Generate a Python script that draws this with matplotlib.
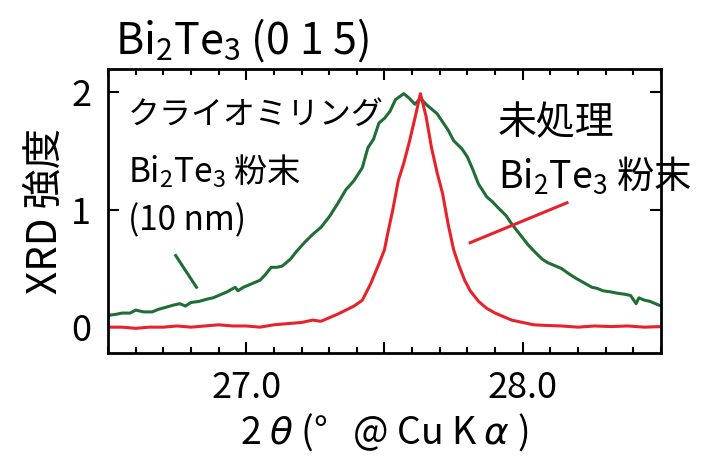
import matplotlib
matplotlib.use('Agg')
import matplotlib.pyplot as plt
from matplotlib.ticker import FixedLocator, FixedFormatter, MultipleLocator

plt.rcParams['font.family'] = ['Noto Sans CJK JP', 'DejaVu Sans']

# cryo-milled powder (10 nm), broad peak
two_theta_milled = [26.50, 26.53, 26.55, 26.58, 26.60, 26.63, 26.66, 26.68, 26.71, 26.74,
                    26.76, 26.78, 26.80, 26.83, 26.86, 26.88, 26.91, 26.93, 26.96, 26.97,
                    26.99, 27.01, 27.03, 27.05, 27.07, 27.09, 27.11, 27.13, 27.16, 27.18,
                    27.21, 27.24, 27.27, 27.30, 27.33, 27.36, 27.39, 27.42, 27.44, 27.46,
                    27.48, 27.50, 27.52, 27.54, 27.57, 27.59, 27.61, 27.63, 27.65, 27.67,
                    27.69, 27.71, 27.73, 27.75, 27.78, 27.80, 27.82, 27.84, 27.87, 27.89,
                    27.91, 27.94, 27.96, 27.98, 28.00, 28.02, 28.04, 28.07, 28.09, 28.11,
                    28.14, 28.17, 28.19, 28.22, 28.25, 28.27, 28.29, 28.32, 28.34, 28.37,
                    28.39, 28.41, 28.42, 28.44, 28.46, 28.48, 28.50]
intensity_milled = [0.10, 0.11, 0.12, 0.12, 0.145, 0.13, 0.13, 0.15, 0.17, 0.19,
                    0.20, 0.18, 0.21, 0.22, 0.24, 0.25, 0.28, 0.30, 0.34, 0.31,
                    0.34, 0.36, 0.38, 0.40, 0.45, 0.51, 0.51, 0.52, 0.58, 0.64,
                    0.72, 0.79, 0.85, 0.94, 1.05, 1.17, 1.25, 1.36, 1.53, 1.60,
                    1.74, 1.78, 1.84, 1.94, 1.99, 1.95, 1.90, 1.95, 1.90, 1.86,
                    1.82, 1.75, 1.68, 1.59, 1.52, 1.45, 1.34, 1.22, 1.11, 1.07,
                    1.02, 0.95, 0.88, 0.82, 0.76, 0.70, 0.65, 0.58, 0.55, 0.53,
                    0.50, 0.45, 0.42, 0.38, 0.34, 0.33, 0.31, 0.30, 0.29, 0.28,
                    0.27, 0.20, 0.25, 0.23, 0.22, 0.20, 0.18]

# untreated powder, sharp peak
two_theta_raw = [26.50, 26.55, 26.60, 26.65, 26.70, 26.75, 26.80, 26.85, 26.90, 26.95,
                 27.00, 27.05, 27.10, 27.15, 27.20, 27.24, 27.27, 27.30, 27.33, 27.36,
                 27.39, 27.42, 27.45, 27.48, 27.50, 27.51, 27.53, 27.55, 27.57, 27.59,
                 27.61, 27.63, 27.65, 27.67, 27.69, 27.71, 27.73, 27.75, 27.77, 27.79,
                 27.81, 27.84, 27.87, 27.90, 27.93, 27.96, 28.00, 28.04, 28.08, 28.14,
                 28.20, 28.26, 28.32, 28.38, 28.44, 28.50]
intensity_raw = [0.00, 0.00, -0.01, 0.00, 0.00, 0.01, 0.00, 0.01, 0.02, 0.01,
                 0.01, 0.00, 0.02, 0.03, 0.04, 0.06, 0.05, 0.08, 0.11, 0.145,
                 0.18, 0.23, 0.37, 0.54, 0.66, 0.78, 1.00, 1.25, 1.40, 1.58,
                 1.78, 1.99, 1.80, 1.53, 1.32, 1.14, 0.88, 0.66, 0.52, 0.40,
                 0.31, 0.22, 0.16, 0.12, 0.09, 0.06, 0.04, 0.02, 0.015, 0.01,
                 0.00, 0.01, 0.005, 0.01, 0.00, 0.005]

xticks_major = [27.0, 27.5, 28.0]
xtick_labels = ['27.0', '', '28.0']
yticks = [0, 1, 2]

green = '#1f6e35'
red = '#e8222b'
sub2 = r'$\mathregular{_2}$'
sub3 = r'$\mathregular{_3}$'

fig = plt.figure(figsize=(7.04, 4.62), dpi=100)
ax = fig.add_axes([0.1534, 0.236, 0.7855, 0.6146])

ax.plot(two_theta_milled, intensity_milled, color=green, lw=2.2)
ax.plot(two_theta_raw, intensity_raw, color=red, lw=2.2)

# leader lines for the labels
ax.plot([26.745, 26.82], [0.61, 0.34], color=green, lw=2.2)
ax.plot([27.81, 28.16], [0.72, 1.06], color=red, lw=2.2)

ax.set_xlim(26.5, 28.5)
ax.set_ylim(-0.22, 2.2)
ax.xaxis.set_major_locator(FixedLocator(xticks_major))
ax.xaxis.set_major_formatter(FixedFormatter(xtick_labels))
ax.xaxis.set_minor_locator(MultipleLocator(0.1))
ax.set_yticks(yticks)
ax.set_yticklabels([str(v) for v in yticks])

for s in ax.spines.values():
    s.set_linewidth(2.0)
ax.tick_params(which='both', direction='in', top=True, right=True, width=1.5,
               labelsize=26)
ax.tick_params(which='major', length=8)
ax.tick_params(which='minor', length=4)
ax.tick_params(axis='x', which='major', pad=12)
ax.tick_params(axis='y', which='major', pad=12)

ax.set_xlabel(r'2 $\theta$ (°   @ Cu K $\alpha$ )', fontsize=27, labelpad=4)
ax.set_ylabel('XRD 強度', fontsize=29, labelpad=4)

fig.text(115 / 704, 1 - 40 / 462, 'Bi' + sub2 + 'Te' + sub3 + ' (0 1 5)',
         fontsize=31, ha='left', va='center')

ax.text(0.036, 0.84, 'クライオミリング', transform=ax.transAxes, fontsize=23,
        ha='left', va='center')
ax.text(0.036, 0.64, 'Bi' + sub2 + 'Te' + sub3 + ' 粉末', transform=ax.transAxes,
        fontsize=24, ha='left', va='center')
ax.text(0.036, 0.465, '(10 nm)', transform=ax.transAxes, fontsize=24,
        ha='left', va='center')
ax.text(0.705, 0.81, '未処理', transform=ax.transAxes, fontsize=28,
        ha='left', va='center')
ax.text(0.705, 0.625, 'Bi' + sub2 + 'Te' + sub3 + ' 粉末', transform=ax.transAxes,
        fontsize=27, ha='left', va='center', clip_on=False)

fig.savefig('out.png', dpi=100)
